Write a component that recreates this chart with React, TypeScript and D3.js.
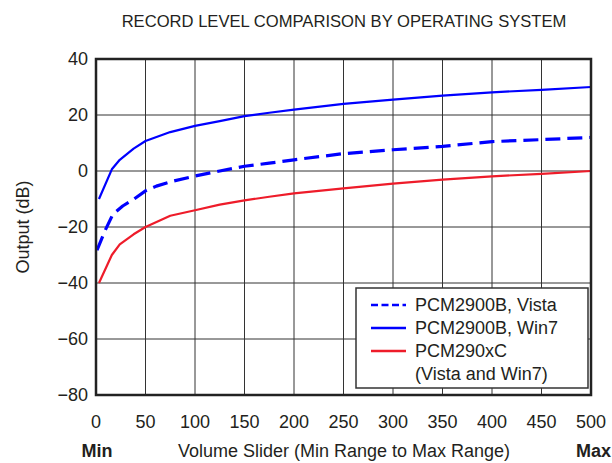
import React from "react";
import * as d3 from "d3";

// ---- data ----
const win7X = [3, 16, 24, 38, 50, 75, 100, 125, 150, 175, 200, 250, 300, 350, 400, 450, 500];
const win7Y = [-10, 0.6, 4, 8, 10.7, 13.9, 16.1, 17.8, 19.6, 20.8, 21.9, 24.0, 25.5, 26.9, 28.1, 29.0, 30];

const vistaX = [1, 9, 17, 27, 38, 50, 61, 78, 100, 125, 150, 175, 200, 250, 300, 350, 400, 450, 500];
const vistaY = [-28.3, -21.4, -15.5, -12.5, -10.1, -7.1, -5.4, -3.6, -1.8, 0, 1.7, 2.8, 4.0, 6.2, 7.6, 8.8, 10.5, 11.2, 12];

const cX = [3, 16, 24, 38, 50, 75, 100, 125, 150, 175, 200, 250, 300, 350, 400, 450, 500];
const cY = [-40, -30, -26.2, -22.6, -20, -16, -14, -12, -10.5, -9.2, -8, -6.2, -4.5, -3.1, -1.9, -1, 0];

const xTicks = [0, 50, 100, 150, 200, 250, 300, 350, 400, 450, 500];
const yTicks = [40, 20, 0, -20, -40, -60, -80];

const legendLabels = ["PCM2900B, Vista", "PCM2900B, Win7", "PCM290xC"];
const legendExtra = "(Vista and Win7)";

const title = "RECORD LEVEL COMPARISON BY OPERATING SYSTEM";
const xTitle = "Volume Slider (Min Range to Max Range)";
const yTitle = "Output (dB)";

// ---- layout ----
const W = 612;
const H = 463;
const L = 96;
const T = 59;
const R = 591;
const B = 395;
const FONT = "'Liberation Sans', Arial, Helvetica, sans-serif";
const BLUE = "#0000ff";
const RED = "#ee1c2a";
const INK = "#231f20";

export default function App() {
  const x = d3.scaleLinear().domain([0, 500]).range([L, R]);
  const y = d3.scaleLinear().domain([-80, 40]).range([B, T]);
  const line = d3
    .line<[number, number]>()
    .x((d) => x(d[0]))
    .y((d) => y(d[1]));

  const series = [
    { pts: vistaX.map((v, i) => [v, vistaY[i]] as [number, number]), color: BLUE, w: 3.2, dash: "15,7" },
    { pts: win7X.map((v, i) => [v, win7Y[i]] as [number, number]), color: BLUE, w: 2.2, dash: undefined },
    { pts: cX.map((v, i) => [v, cY[i]] as [number, number]), color: RED, w: 2.2, dash: undefined },
  ];

  const legL = 356;
  const legT = 288;
  const legR = 588;
  const legB = 388;
  const rowY = [305, 328, 351, 374];

  return (
    <svg
      width={W}
      height={H}
      style={{ position: "absolute", left: 0, top: 0, background: "#fff" }}
      fontFamily={FONT}
    >
      <rect x={0} y={0} width={W} height={H} fill="#fff" />
      <text x={344} y={27} textAnchor="middle" fontSize={16.6} fill={INK}>
        {title}
      </text>

      {/* grid */}
      {xTicks.map((t) => (
        <line key={"gx" + t} x1={x(t)} x2={x(t)} y1={T} y2={B} stroke="#333" strokeWidth={1} />
      ))}
      {yTicks.map((t) => (
        <line key={"gy" + t} x1={L} x2={R} y1={y(t)} y2={y(t)} stroke="#333" strokeWidth={1} />
      ))}

      {/* series */}
      {series.map((s, i) => (
        <path
          key={i}
          d={line(s.pts) || ""}
          fill="none"
          stroke={s.color}
          strokeWidth={s.w}
          strokeDasharray={s.dash}
          strokeLinejoin="round"
        />
      ))}

      {/* frame */}
      <rect x={L} y={T} width={R - L} height={B - T} fill="none" stroke="#222" strokeWidth={2.5} />

      {/* legend */}
      <rect x={legL} y={legT} width={legR - legL} height={legB - legT} fill="#fff" stroke="#333" strokeWidth={1.5} />
      {series.map((s, i) => (
        <line
          key={"ll" + i}
          x1={371}
          x2={406}
          y1={rowY[i]}
          y2={rowY[i]}
          stroke={s.color}
          strokeWidth={2.5}
          strokeDasharray={i === 0 ? "7,3.5" : undefined}
        />
      ))}
      {legendLabels.map((lab, i) => (
        <text key={"lt" + i} x={415} y={rowY[i]} dy="0.35em" fontSize={18} fill={INK}>
          {lab}
        </text>
      ))}
      <text x={415} y={rowY[3]} dy="0.35em" fontSize={18} fill={INK}>
        {legendExtra}
      </text>

      {/* y ticks */}
      {yTicks.map((t) => (
        <text key={"yt" + t} x={88} y={y(t)} dy="0.35em" textAnchor="end" fontSize={18} fill={INK}>
          {t < 0 ? "\u2212" + Math.abs(t) : String(t)}
        </text>
      ))}
      {/* x ticks */}
      {xTicks.map((t) => (
        <text key={"xt" + t} x={x(t)} y={428} textAnchor="middle" fontSize={18} fill={INK}>
          {t}
        </text>
      ))}

      <text x={x(0) + 1} y={457} textAnchor="middle" fontSize={18} fontWeight="bold" fill={INK}>
        Min
      </text>
      <text x={611} y={457} textAnchor="end" fontSize={18} fontWeight="bold" fill={INK}>
        Max
      </text>
      <text x={344} y={457} textAnchor="middle" fontSize={18} fill={INK}>
        {xTitle}
      </text>
      <text
        transform={`translate(29, 227) rotate(-90)`}
        textAnchor="middle"
        fontSize={18}
        fill={INK}
      >
        {yTitle}
      </text>
    </svg>
  );
}
